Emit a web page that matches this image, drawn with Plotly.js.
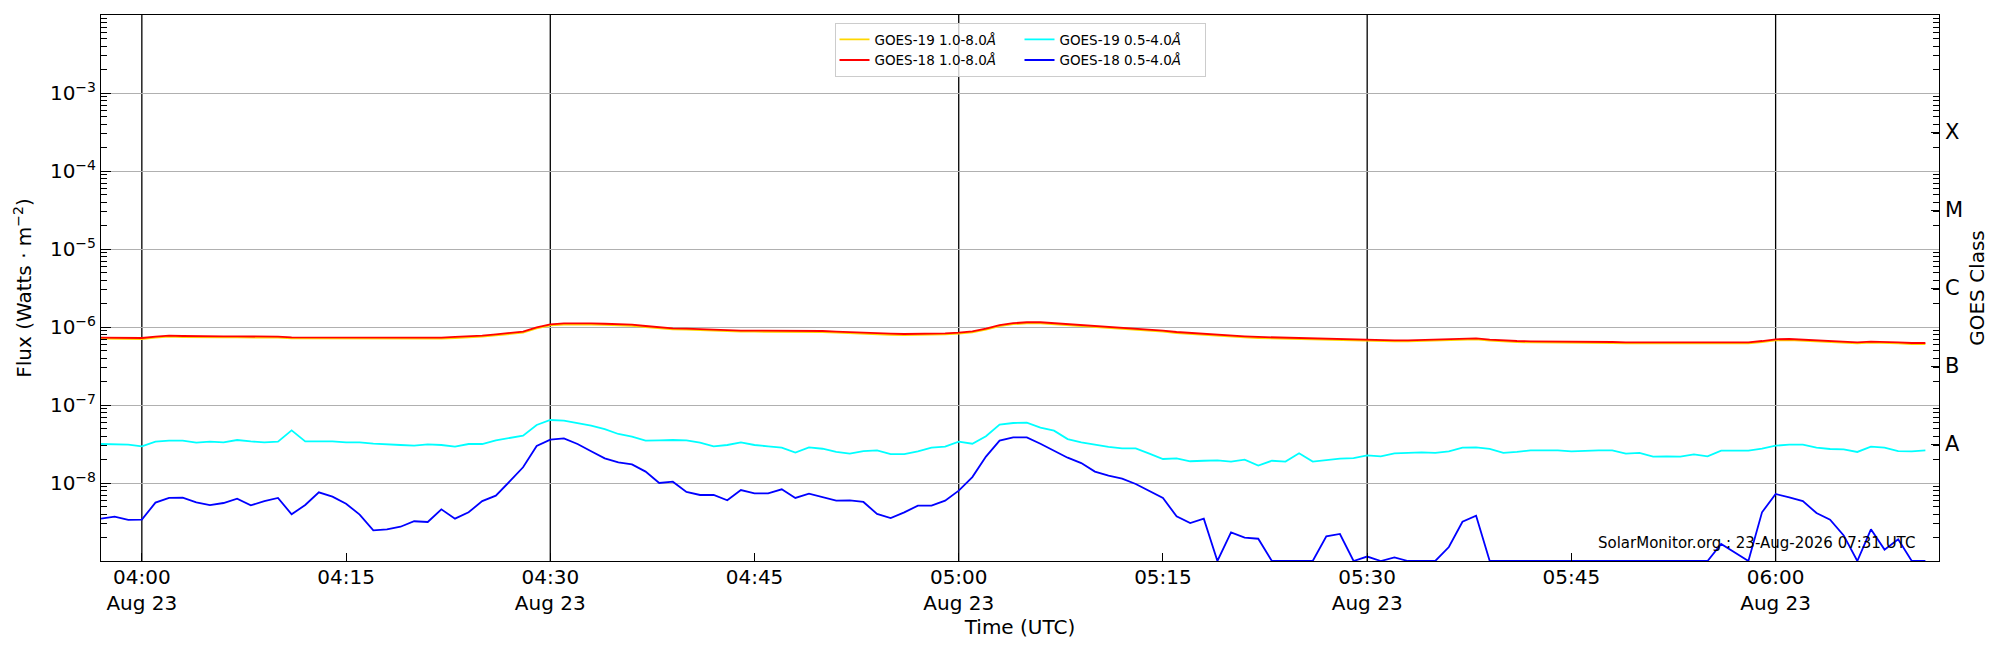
<!DOCTYPE html>
<html>
<head>
<meta charset="utf-8">
<script src="https://cdn.plot.ly/plotly-3.0.1.min.js"></script>
<style>
  html, body { margin: 0; padding: 0; background: #fff; }
  #goes { width: 2000px; height: 650px; }
</style>
</head>
<body>
<div id="goes"></div>
<script>
// GOES X-ray flux, one sample per minute from 03:57 UTC
const startTime = Date.UTC(2026, 7, 23, 3, 57);
const cadenceMin = 1;

// GOES-19 1.0-8.0 A   (x 1e-6 W m^-2)
const g19Long = [
    0.708, 0.701, 0.695, 0.701, 0.729, 0.751, 0.744, 0.736, 0.736, 0.736,
    0.736, 0.736, 0.736, 0.729, 0.715, 0.715, 0.715, 0.715, 0.708, 0.708,
    0.708, 0.701, 0.701, 0.701, 0.708, 0.708, 0.723, 0.729, 0.751, 0.781,
    0.804, 0.845, 0.960, 1.048, 1.077, 1.086, 1.077, 1.067, 1.057, 1.038,
    0.999, 0.960, 0.932, 0.923, 0.906, 0.888, 0.879, 0.870, 0.870, 0.870,
    0.879, 0.879, 0.870, 0.862, 0.845, 0.828, 0.813, 0.804, 0.796, 0.789,
    0.789, 0.796, 0.804, 0.821, 0.854, 0.923, 1.028, 1.086, 1.116, 1.116,
    1.086, 1.057, 1.038, 1.009, 0.980, 0.952, 0.923, 0.896, 0.870, 0.837,
    0.813, 0.789, 0.766, 0.751, 0.736, 0.723, 0.715, 0.701, 0.695, 0.688,
    0.681, 0.674, 0.667, 0.661, 0.661, 0.655, 0.655, 0.661, 0.667, 0.674,
    0.688, 0.695, 0.667, 0.648, 0.641, 0.635, 0.635, 0.635, 0.629, 0.629,
    0.623, 0.623, 0.617, 0.617, 0.617, 0.611, 0.611, 0.611, 0.611, 0.611,
    0.611, 0.617, 0.641, 0.674, 0.681, 0.667, 0.648, 0.635, 0.623, 0.617,
    0.629, 0.629, 0.617, 0.605, 0.605
];
// GOES-18 1.0-8.0 A   (x 1e-6 W m^-2)
const g18Long = [
    0.730, 0.723, 0.716, 0.723, 0.752, 0.774, 0.767, 0.759, 0.759, 0.759,
    0.759, 0.759, 0.759, 0.752, 0.737, 0.737, 0.737, 0.737, 0.730, 0.730,
    0.730, 0.723, 0.723, 0.723, 0.730, 0.730, 0.745, 0.752, 0.774, 0.805,
    0.829, 0.871, 0.990, 1.08, 1.11, 1.12, 1.11, 1.10, 1.09, 1.07,
    1.03, 0.990, 0.961, 0.952, 0.934, 0.915, 0.906, 0.897, 0.897, 0.897,
    0.906, 0.906, 0.897, 0.889, 0.871, 0.854, 0.838, 0.829, 0.821, 0.813,
    0.813, 0.821, 0.829, 0.846, 0.880, 0.952, 1.06, 1.12, 1.15, 1.15,
    1.12, 1.09, 1.07, 1.04, 1.01, 0.981, 0.952, 0.924, 0.897, 0.863,
    0.838, 0.813, 0.790, 0.774, 0.759, 0.745, 0.737, 0.723, 0.716, 0.709,
    0.702, 0.695, 0.688, 0.681, 0.681, 0.675, 0.675, 0.681, 0.688, 0.695,
    0.709, 0.716, 0.688, 0.668, 0.661, 0.655, 0.655, 0.655, 0.648, 0.648,
    0.642, 0.642, 0.636, 0.636, 0.636, 0.630, 0.630, 0.630, 0.630, 0.630,
    0.630, 0.636, 0.661, 0.695, 0.702, 0.688, 0.668, 0.655, 0.642, 0.636,
    0.648, 0.648, 0.636, 0.624, 0.624
];
// GOES-19 0.5-4.0 A   (x 1e-8 W m^-2)
const g19Short = [
    3.16, 3.13, 3.10, 2.95, 3.39, 3.49, 3.49, 3.29, 3.39, 3.32,
    3.56, 3.42, 3.32, 3.39, 4.73, 3.42, 3.42, 3.42, 3.32, 3.32,
    3.19, 3.16, 3.07, 3.01, 3.13, 3.07, 2.92, 3.16, 3.16, 3.52,
    3.78, 4.05, 5.54, 6.42, 6.30, 5.88, 5.43, 4.92, 4.25, 3.93,
    3.49, 3.52, 3.56, 3.52, 3.29, 2.95, 3.07, 3.32, 3.07, 2.95,
    2.84, 2.45, 2.86, 2.75, 2.50, 2.38, 2.57, 2.62, 2.35, 2.35,
    2.55, 2.84, 2.92, 3.39, 3.19, 3.97, 5.60, 5.88, 5.94, 5.12,
    4.69, 3.66, 3.32, 3.10, 2.90, 2.78, 2.78, 2.38, 2.03, 2.07,
    1.90, 1.93, 1.95, 1.88, 1.99, 1.67, 1.93, 1.88, 2.40, 1.88,
    1.97, 2.05, 2.09, 2.26, 2.20, 2.40, 2.43, 2.47, 2.43, 2.55,
    2.84, 2.86, 2.73, 2.43, 2.50, 2.62, 2.62, 2.62, 2.55, 2.60,
    2.62, 2.62, 2.38, 2.43, 2.18, 2.20, 2.18, 2.33, 2.20, 2.60,
    2.62, 2.60, 2.75, 3.01, 3.10, 3.10, 2.84, 2.73, 2.70, 2.50,
    2.92, 2.84, 2.57, 2.55, 2.62
];
// GOES-18 0.5-4.0 A   (x 1e-9 W m^-2), 1.00 = floor of the plot
const g18Short = [
    3.49, 3.70, 3.36, 3.39, 5.60, 6.43, 6.49, 5.65, 5.22, 5.54,
    6.30, 5.17, 5.87, 6.43, 3.97, 5.22, 7.59, 6.68, 5.43, 3.93,
    2.47, 2.55, 2.75, 3.23, 3.16, 4.59, 3.49, 4.21, 5.87, 6.89,
    10.4, 15.9, 29.8, 36.0, 37.4, 31.6, 25.5, 20.7, 18.4, 17.3,
    14.0, 10.0, 10.4, 7.67, 7.02, 7.02, 6.00, 8.13, 7.38, 7.38,
    8.30, 6.43, 7.30, 6.62, 5.94, 6.00, 5.71, 4.01, 3.56, 4.21,
    5.12, 5.12, 5.94, 7.98, 11.9, 21.8, 34.9, 38.5, 38.5, 31.9,
    26.2, 21.1, 18.0, 14.0, 12.4, 11.4, 9.71, 7.98, 6.43, 3.74,
    3.07, 3.49, 1.00, 2.33, 1.99, 1.93, 1.00, 1.00, 1.00, 1.00,
    2.07, 2.22, 1.00, 1.14, 1.00, 1.11, 1.00, 1.00, 1.00, 1.51,
    3.19, 3.81, 1.00, 1.00, 1.00, 1.00, 1.00, 1.00, 1.00, 1.00,
    1.00, 1.00, 1.00, 1.00, 1.00, 1.00, 1.00, 1.00, 1.00, 1.65,
    1.29, 1.00, 4.21, 7.23, 6.55, 5.87, 4.12, 3.39, 2.13, 1.00,
    2.55, 1.40, 1.90, 1.00, 1.00
];

const seriesData   = [g19Long, g18Long, g19Short, g18Short];
const seriesScale  = [1e-6, 1e-6, 1e-8, 1e-9];
const seriesNames  = ['GOES-19 1.0-8.0<i>Å</i>', 'GOES-18 1.0-8.0<i>Å</i>',
                      'GOES-19 0.5-4.0<i>Å</i>', 'GOES-18 0.5-4.0<i>Å</i>'];
const seriesGroups = ['long', 'long', 'short', 'short'];
const seriesColors = ['gold', 'red', 'cyan', 'blue'];

const xRange     = ['2026-08-23 03:57:00', '2026-08-23 06:12:00'];
const tickTimes  = ['2026-08-23 04:00', '2026-08-23 04:15', '2026-08-23 04:30',
                    '2026-08-23 04:45', '2026-08-23 05:00', '2026-08-23 05:15',
                    '2026-08-23 05:30', '2026-08-23 05:45', '2026-08-23 06:00'];
const tickLabels = ['04:00<br>Aug 23', '04:15', '04:30<br>Aug 23', '04:45',
                    '05:00<br>Aug 23', '05:15', '05:30<br>Aug 23', '05:45',
                    '06:00<br>Aug 23'];
const markTimes  = ['2026-08-23 04:00', '2026-08-23 04:30', '2026-08-23 05:00',
                    '2026-08-23 05:30', '2026-08-23 06:00'];

const decadeExp  = [-8, -7, -6, -5, -4, -3];
const classNames = ['A', 'B', 'C', 'M', 'X'];
const classExp   = [-7.5, -6.5, -5.5, -4.5, -3.5];

const fontFam = 'DejaVu Sans, sans-serif';

let times = g18Long.map((v, i) => startTime + i * cadenceMin * 60000);

let traces = seriesData.map((vals, k) => ({
    x: times,
    y: vals.map(v => v * seriesScale[k]),
    type: 'scatter',
    mode: 'lines',
    name: seriesNames[k],
    legendgroup: seriesGroups[k],
    line: { color: seriesColors[k], width: 1.8 },
    hoverinfo: 'skip'
}));

// log minor ticks 2..9 in every decade
let minorVals = [];
for (let e = -9; e < -2; e++) {
    for (let d = 2; d <= 9; d++) minorVals.push(d * Math.pow(10, e));
}

let shapes = markTimes.map(t => ({
    type: 'line', xref: 'x', yref: 'paper',
    x0: t, x1: t, y0: 0, y1: 1,
    line: { color: 'black', width: 1.3 },
    layer: 'below'
}));

let layout = {
    width: 2000,
    height: 650,
    margin: { l: 101, r: 61, t: 15, b: 89 },
    paper_bgcolor: 'white',
    plot_bgcolor: 'white',
    font: { family: fontFam, size: 20, color: 'black' },
    showlegend: true,
    legend: {
        orientation: 'h',
        traceorder: 'grouped',
        entrywidth: 140,
        x: 0.5, xanchor: 'center',
        y: 0.985, yanchor: 'top',
        bgcolor: 'rgba(255,255,255,0.8)',
        bordercolor: '#cccccc',
        borderwidth: 1,
        font: { family: fontFam, size: 13.5, color: 'black' }
    },
    xaxis: {
        type: 'date',
        range: xRange,
        tickmode: 'array',
        tickvals: tickTimes,
        ticktext: tickLabels,
        ticks: 'inside',
        ticklen: 8,
        tickcolor: 'black',
        ticklabelstandoff: -2,
        showgrid: false,
        zeroline: false,
        showline: true,
        linecolor: 'black',
        linewidth: 1,
        mirror: true,
        tickfont: { family: fontFam, size: 20 },
        title: { text: 'Time (UTC)', font: { family: fontFam, size: 20 }, standoff: 3 }
    },
    yaxis: {
        type: 'log',
        range: [-9, -2],
        tickmode: 'array',
        tickvals: decadeExp.map(e => Math.pow(10, e)),
        ticktext: decadeExp.map(e => '10<sup>−' + (-e) + '</sup>'),
        ticks: 'inside',
        ticklen: 10,
        tickcolor: 'black',
        minor: { tickmode: 'array', tickvals: minorVals, ticks: 'inside',
                 ticklen: 6, tickcolor: 'black', showgrid: false },
        showgrid: true,
        gridcolor: '#b0b0b0',
        gridwidth: 1,
        zeroline: false,
        showline: true,
        linecolor: 'black',
        linewidth: 1,
        mirror: true,
        tickfont: { family: fontFam, size: 20 },
        title: { text: 'Flux (Watts · m<sup>−2</sup>)', font: { family: fontFam, size: 20 }, standoff: 12 }
    },
    yaxis2: {
        type: 'log',
        overlaying: 'y',
        side: 'right',
        range: [-9, -2],
        tickmode: 'array',
        tickvals: classExp.map(e => Math.pow(10, e)),
        ticktext: classNames,
        ticks: 'inside',
        ticklen: 8,
        tickcolor: 'black',
        ticklabelstandoff: 5,
        minor: { tickmode: 'array', tickvals: minorVals, ticks: 'inside',
                 ticklen: 6, tickcolor: 'black', showgrid: false },
        showgrid: false,
        zeroline: false,
        showline: false,
        tickfont: { family: fontFam, size: 21 },
        title: { text: 'GOES Class', font: { family: fontFam, size: 20 }, standoff: 7 }
    },
    shapes: shapes,
    annotations: [{
        text: 'SolarMonitor.org : 23-Aug-2026 07:31 UTC',
        xref: 'paper', yref: 'paper',
        x: 0.988, y: 0.033,
        xanchor: 'right', yanchor: 'middle',
        showarrow: false,
        font: { family: fontFam, size: 15, color: 'black' }
    }]
};

// empty trace so the class axis is drawn
traces.push({ x: [times[0]], y: [null], yaxis: 'y2', type: 'scatter',
              mode: 'lines', showlegend: false, hoverinfo: 'skip' });

Plotly.newPlot('goes', traces, layout, { displayModeBar: false, staticPlot: true });
</script>
</body>
</html>
